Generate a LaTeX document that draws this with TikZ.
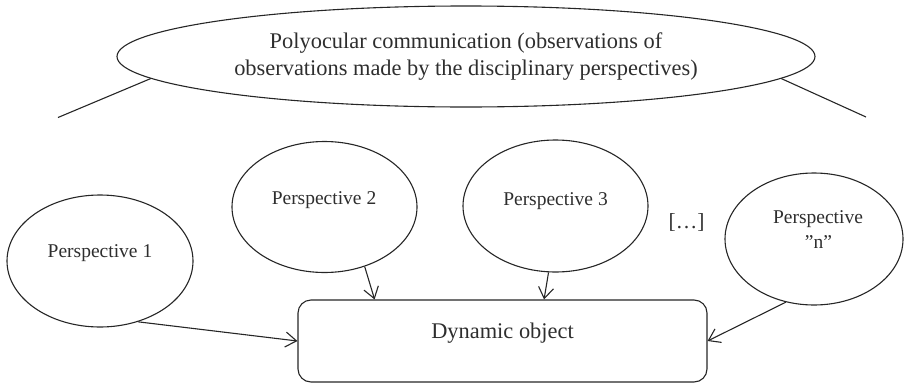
\documentclass[tikz,border=0pt]{standalone}
\usepackage{fontspec}
\setmainfont{Liberation Serif}
\usetikzlibrary{shapes.geometric,arrows.meta}
\definecolor{ink}{HTML}{262626}
\definecolor{txt}{HTML}{2E2E2E}
\tikzset{
  persp/.style={draw=ink, ellipse, line width=1.1pt, inner sep=0pt},
  lbl/.style={text=txt, inner sep=0pt, anchor=base, font=\fontsize{19.5}{25}\selectfont},
  conn/.style={draw=ink, line width=1.1pt},
  arr/.style={conn, -{Straight Barb[length=11pt,width=15pt,line width=1.1pt]}},
}
\begin{document}
\begin{tikzpicture}[x=1pt,y=-1pt]
\useasboundingbox (0,0) rectangle (904,383);
% top ellipse
\node[persp, minimum width=698pt, minimum height=101pt, align=center, text=txt,
      font=\fontsize{22.4}{27.3}\selectfont] (big) at (466,56.5)
  {Polyocular communication (observations of\\observations made by the disciplinary perspectives)};
\coordinate (lend) at (58,117.5);
\coordinate (rend) at (866,117);
\draw[conn] (big.184) -- (lend);
\draw[conn] (big.-4.2) -- (rend);
% perspectives
\node[persp, minimum width=186pt, minimum height=132pt] (p1) at (100,261) {};
\node[persp, minimum width=185pt, minimum height=131pt] (p2) at (324.5,207) {};
\node[persp, minimum width=185pt, minimum height=132pt] (p3) at (555.5,206) {};
\node[persp, minimum width=178pt, minimum height=132pt] (pn) at (814,239) {};
\node[lbl] (t1) at (100,257.5) {Perspective 1};
\node[lbl] (t2) at (324,204) {Perspective 2};
\node[lbl] (t3) at (555.5,205) {Perspective 3};
\node[lbl] (tn1) at (818,223) {Perspective};
\node[lbl] (tn2) at (818.5,248) {”n”};
\node[lbl, font=\fontsize{21.5}{25}\selectfont] (dots) at (686.5,228) {[…]};
% object
\node[draw=ink, line width=1.1pt, rounded corners=13pt, minimum width=409pt,
      minimum height=82pt, inner sep=0pt] (obj) at (502.5,341) {};
\node[lbl, font=\fontsize{22.4}{27}\selectfont] (tobj) at (502.5,338) {Dynamic object};
% arrows
\draw[arr] (p1.-58.8) -- (obj.west);
\draw[arr] (p2.-56) -- (obj.162.8);
\draw[arr] (p3.-96) -- (obj.45.4);
\draw[arr] (pn.-114.8) -- (obj.east);
\end{tikzpicture}
\end{document}
